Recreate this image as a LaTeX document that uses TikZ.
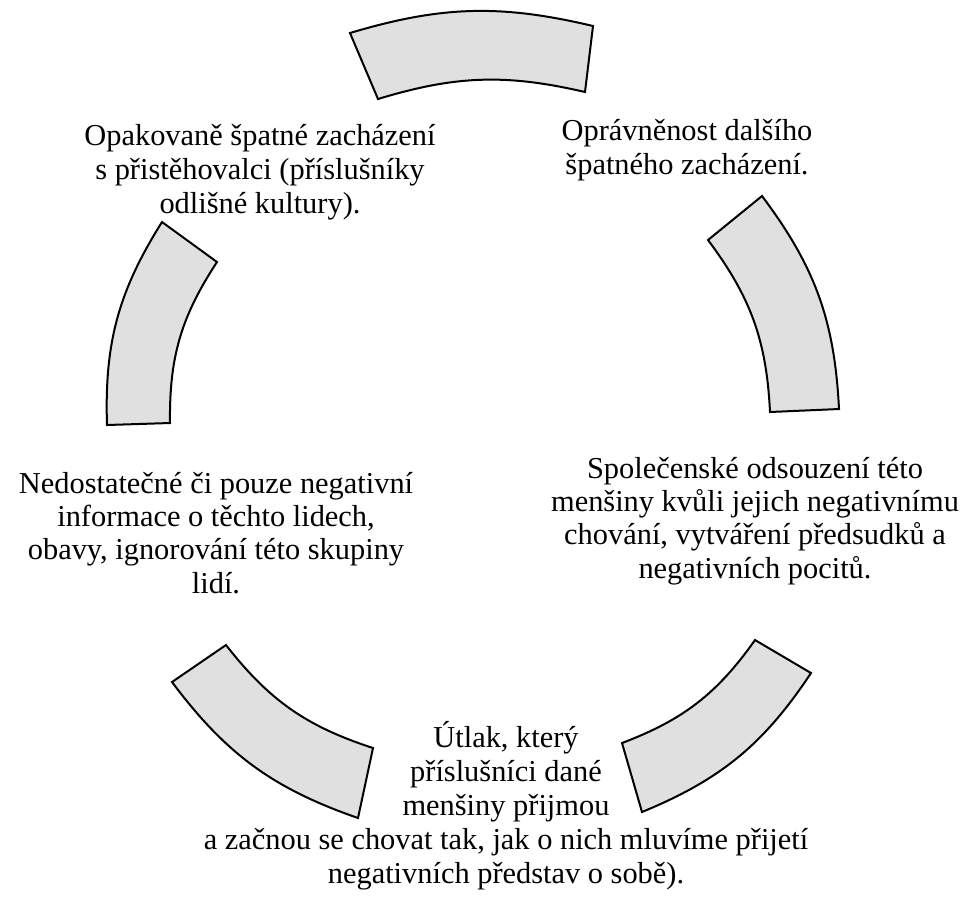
\documentclass[tikz,border=0pt]{standalone}
\usepackage{fontspec}
\setmainfont{Liberation Serif}
\begin{document}
\begin{tikzpicture}[x=0.5pt,y=0.5pt,
  sector/.style={draw=black, line width=1pt, fill=black!12, line join=miter},
  txt/.style={align=center, inner sep=0pt, font=\fontsize{15.2}{17}\selectfont},
  txtn/.style={align=center, inner sep=0pt, font=\fontsize{15.2}{16.6}\selectfont}]
\path[use as bounding box] (0,0) rectangle (968,-896);
% ring sectors (clockwise from top)
\draw[sector] (350,-33) to[bend left=15] (593,-26) -- (585,-92) to[bend right=15] (378,-99) -- cycle;
\draw[sector] (762,-196) to[bend left=17] (839,-409) -- (770,-412) to[bend right=17] (708,-240) -- cycle;
\draw[sector] (811,-673) to[bend left=17] (642,-812) -- (622,-743) to[bend right=17] (755,-640) -- cycle;
\draw[sector] (358,-818) to[bend left=17] (172,-682) -- (226,-645) to[bend right=17] (373,-748) -- cycle;
\draw[sector] (107,-425) to[bend left=17] (162,-222) -- (217,-262) to[bend right=17] (170,-423) -- cycle;
% texts
\node[txt] (t1) at (260,-172) {Opakovaně špatné zacházení\\s přistěhovalci (příslušníky\\odlišné kultury).};
\node[txt] (t2) at (687,-150) {Oprávněnost dalšího\\špatného zacházení.};
\node[txtn] (t3) at (755,-521) {Společenské odsouzení této\\menšiny kvůli jejich negativnímu\\chování, vytváření předsudků a\\negativních pocitů.};
\node[txtn] (t4) at (216,-533) {Nedostatečné či pouze negativní\\informace o těchto lidech,\\obavy, ignorování této skupiny\\lidí.};
\node[txt] (t5) at (506,-806) {Útlak, který\\příslušníci dané\\menšiny přijmou\\a začnou se chovat tak, jak o nich mluvíme přijetí\\negativních představ o sobě).};
\end{tikzpicture}
\end{document}
